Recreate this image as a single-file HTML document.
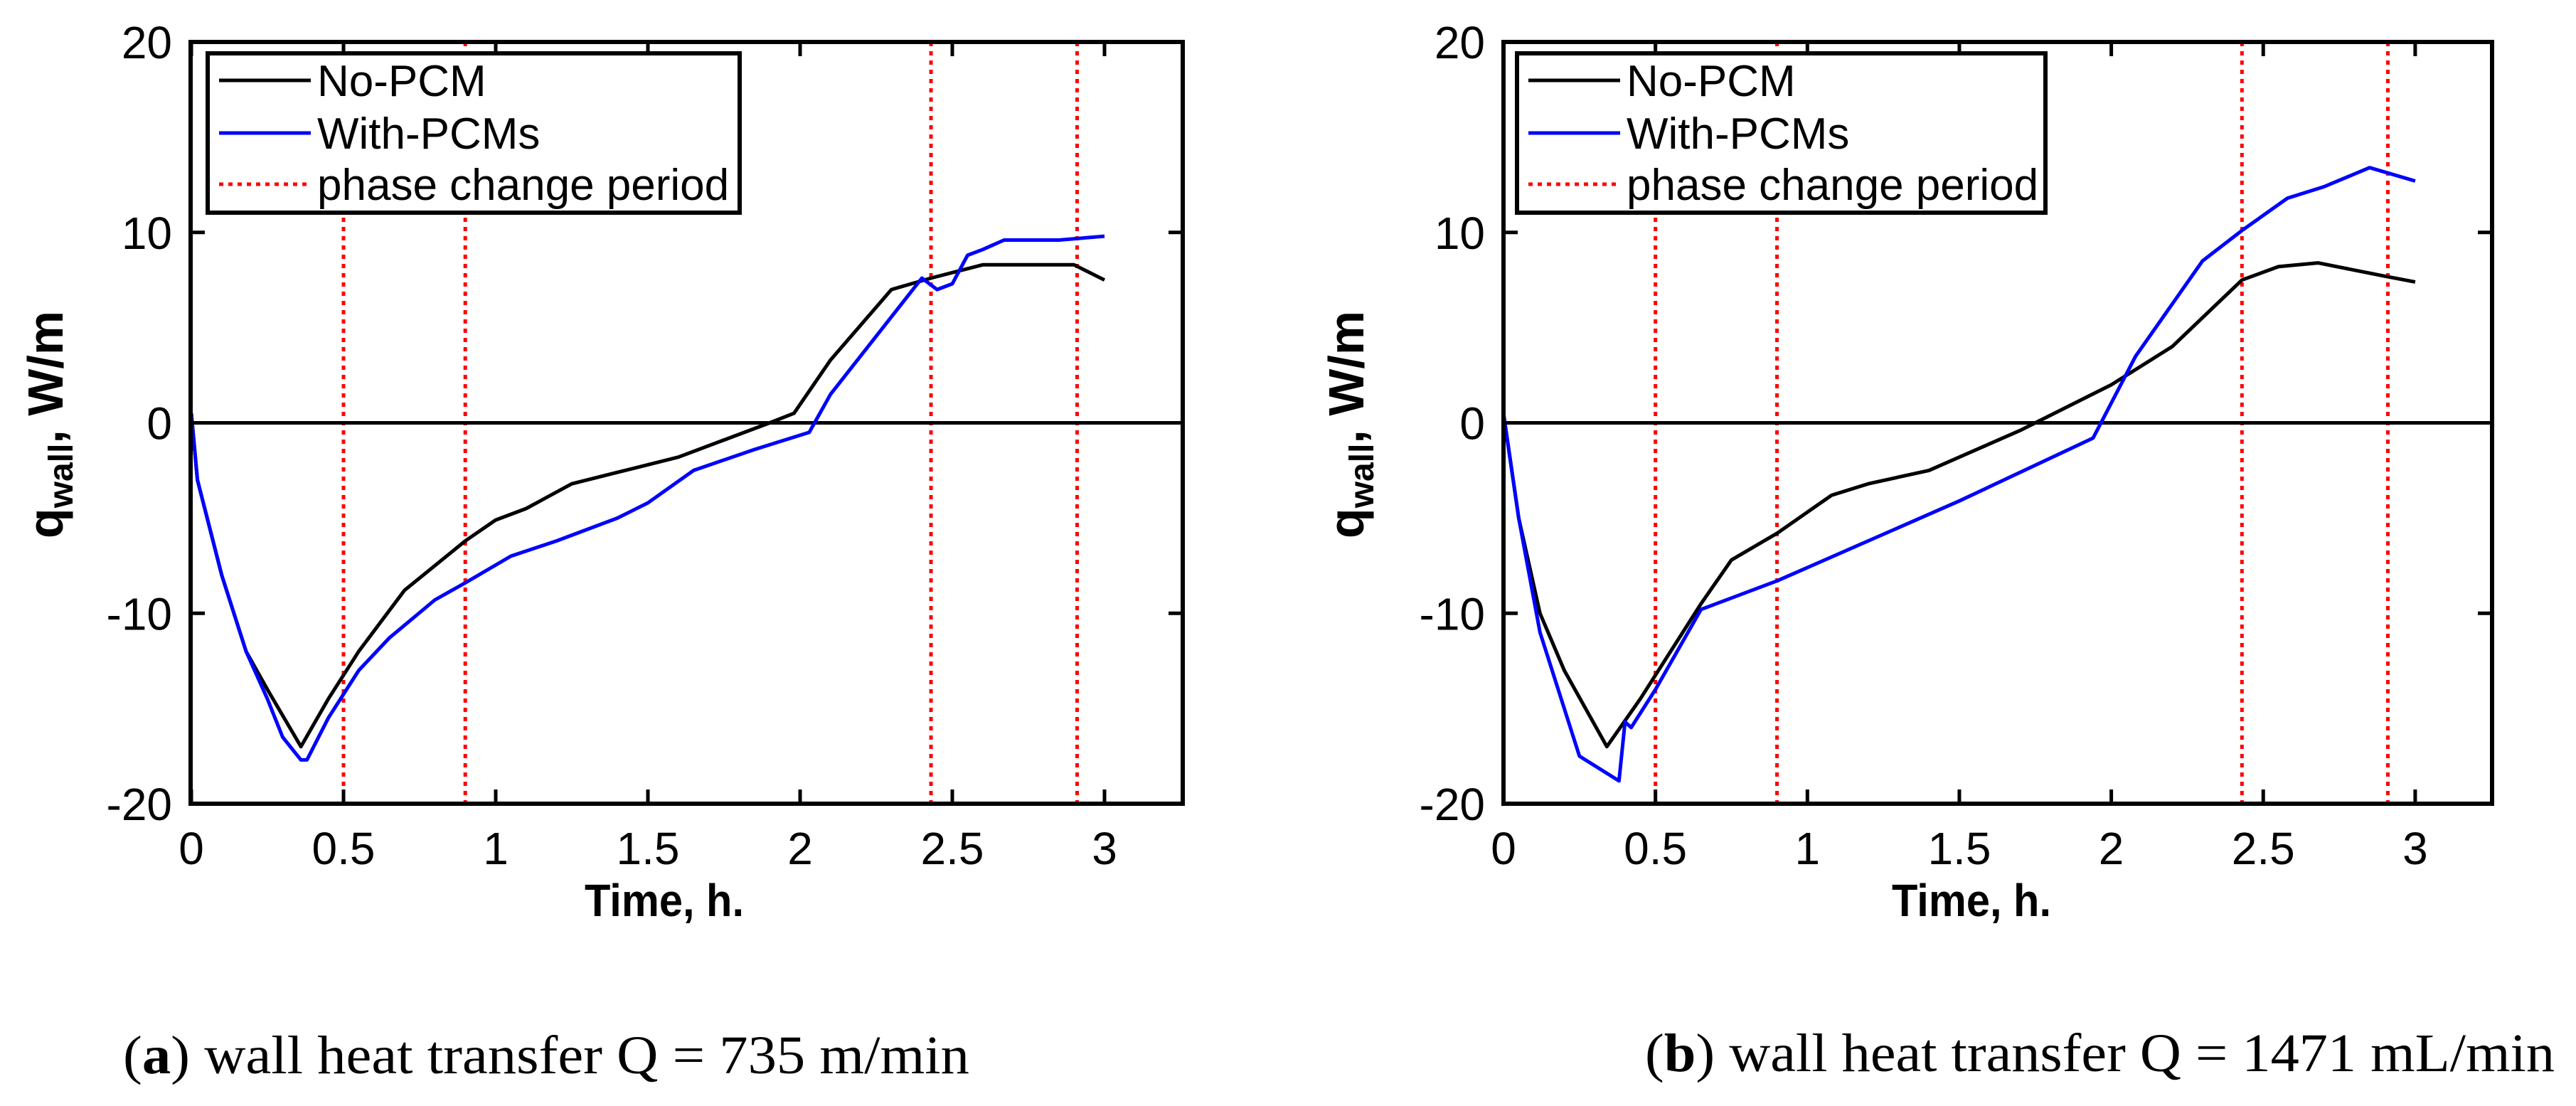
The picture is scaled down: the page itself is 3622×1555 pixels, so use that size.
<!DOCTYPE html>
<html><head><meta charset="utf-8"><title>Wall heat transfer charts</title>
<style>
html,body{margin:0;padding:0;background:#fff;}
svg{display:block;}
text{font-family:"Liberation Sans",Arial,sans-serif;fill:#000;}
.cap{font-family:"Liberation Serif","Times New Roman",serif;}
</style></head>
<body>
<svg id="fig" width="3622" height="1555" viewBox="0 0 3622 1555" xmlns="http://www.w3.org/2000/svg">
<rect width="3622" height="1555" fill="#fff"/>
<g id="chartA"></g>
<g id="chartB"></g>
<text class="cap" x="173" y="1509" font-size="76" textLength="1190" lengthAdjust="spacingAndGlyphs">(<tspan font-weight="bold">a</tspan>) wall heat transfer Q = 735 m/min</text>
<text class="cap" x="2313" y="1506" font-size="76" textLength="1279" lengthAdjust="spacingAndGlyphs">(<tspan font-weight="bold">b</tspan>) wall heat transfer Q = 1471 mL/min</text>
</svg>
<script>
// ---- data ----
const xTicks = [0, 0.5, 1, 1.5, 2, 2.5, 3];
const xTickLabels = ["0", "0.5", "1", "1.5", "2", "2.5", "3"];
const yTicks = [-20, -10, 0, 10, 20];
const yTickLabels = ["-20", "-10", "0", "10", "20"];
const phaseLinesA = [0.5, 0.9, 2.43, 2.91];
const phaseLinesB = [0.5, 0.9, 2.43, 2.91];

const noPcmA_t = [0,0.02,0.1,0.18,0.25,0.36,0.45,0.55,0.7,0.8,0.9,1.0,1.1,1.25,1.4,1.6,1.75,1.9,1.98,2.1,2.3,2.43,2.6,2.9,3.0];
const noPcmA_q = [0.5,-3,-8,-12,-14,-17,-14.5,-12,-8.8,-7.5,-6.2,-5.1,-4.5,-3.2,-2.6,-1.8,-0.9,0,0.5,3.3,7,7.6,8.3,8.3,7.5];
const pcmA_t = [0,0.02,0.1,0.18,0.25,0.3,0.36,0.38,0.45,0.55,0.65,0.8,0.9,1.05,1.2,1.4,1.5,1.65,1.85,2.03,2.1,2.4,2.45,2.5,2.55,2.6,2.67,2.8,2.85,3.0];
const pcmA_q = [0.5,-3,-8,-12,-14.5,-16.5,-17.7,-17.7,-15.5,-13,-11.3,-9.3,-8.4,-7,-6.2,-5,-4.2,-2.5,-1.4,-0.5,1.5,7.6,7,7.3,8.8,9.1,9.6,9.6,9.6,9.8];

const noPcmB_t = [0,0.05,0.12,0.2,0.34,0.45,0.65,0.75,0.9,1.08,1.2,1.4,1.7,1.75,2.0,2.2,2.43,2.55,2.68,2.9,3.0];
const noPcmB_q = [0.5,-5,-10,-13,-17,-14.5,-9.5,-7.2,-5.8,-3.8,-3.2,-2.5,-0.4,0,2,4,7.5,8.2,8.4,7.7,7.4];
const pcmB_t = [0,0.05,0.12,0.25,0.38,0.4,0.42,0.5,0.65,0.9,1.2,1.5,1.94,2.08,2.3,2.43,2.58,2.7,2.85,3.0];
const pcmB_q = [0.5,-5,-11,-17.5,-18.8,-15.7,-16,-14,-9.8,-8.3,-6.2,-4.1,-0.8,3.5,8.5,10.1,11.8,12.4,13.4,12.7];

const NS = "http://www.w3.org/2000/svg";
function mk(tag, attrs, parent) {
  const e = document.createElementNS(NS, tag);
  for (const k in attrs) e.setAttribute(k, attrs[k]);
  parent.appendChild(e);
  return e;
}

function drawChart(g, cfg, noT, noQ, pcT, pcQ, phases) {
  const L = cfg.left, R = cfg.right, T = 59, B = 1130;
  const xs = v => cfg.x0 + v * cfg.unit;
  const ys = v => T + (20 - v) / 40 * (B - T);

  phases.forEach(p => {
    const l = mk("line", {x1: xs(p), x2: xs(p), y1: T, y2: B, stroke: "#ff0000", "stroke-width": 5, "stroke-dasharray": "6 7"}, g);
    
    
  });
  const z = mk("line", {x1: L, x2: R, y1: ys(0), y2: ys(0), stroke: "#000", "stroke-width": 5}, g);
  
  

  const pts = (t, q) => t.map((v, i) => xs(v).toFixed(1) + "," + ys(q[i]).toFixed(1)).join(" ");
  const s1 = mk("polyline", {points: pts(noT, noQ), fill: "none", stroke: "#000", "stroke-width": 5, "stroke-linejoin": "round"}, g);
  
  
  const s2 = mk("polyline", {points: pts(pcT, pcQ), fill: "none", stroke: "#0000ff", "stroke-width": 5, "stroke-linejoin": "round"}, g);
  
  

  const box = mk("rect", {x: L, y: T, width: R - L, height: B - T, fill: "none", stroke: "#000", "stroke-width": 6}, g);
  
  

  xTicks.forEach((v, i) => {
    mk("line", {x1: xs(v), x2: xs(v), y1: B, y2: B - 20, stroke: "#000", "stroke-width": 5}, g);
    mk("line", {x1: xs(v), x2: xs(v), y1: T, y2: T + 20, stroke: "#000", "stroke-width": 5}, g);
    const t = mk("text", {x: xs(v), y: 1215, "font-size": 64, "text-anchor": "middle"}, g);
    t.textContent = xTickLabels[i];
    
    
  });
  yTicks.forEach((v, i) => {
    mk("line", {x1: L, x2: L + 20, y1: ys(v), y2: ys(v), stroke: "#000", "stroke-width": 5}, g);
    mk("line", {x1: R, x2: R - 20, y1: ys(v), y2: ys(v), stroke: "#000", "stroke-width": 5}, g);
    const t = mk("text", {x: L - 26, y: ys(v) + 23, "font-size": 64, "text-anchor": "end"}, g);
    t.textContent = yTickLabels[i];
    
    
  });

  const xt = mk("text", {x: cfg.xTitleX, y: 1288, "font-size": 64, "font-weight": "bold", "text-anchor": "middle", textLength: 224, lengthAdjust: "spacingAndGlyphs"}, g);
  xt.textContent = "Time, h.";
  
  

  const yt = mk("text", {x: 0, y: 0, "font-size": 70, "font-weight": "bold", "text-anchor": "middle", transform: "translate(" + cfg.yTitleX + ",597) rotate(-90)"}, g);
  
  
  yt.appendChild(document.createTextNode("q"));
  const sub = mk("tspan", {"font-size": 48, dy: 14}, yt);
  sub.textContent = "wall";
  const rest = mk("tspan", {dy: -14}, yt);
  rest.textContent = ", W/m";

  const lg = mk("g", {}, g);
  
  
  const lx = cfg.legendL, lw = cfg.legendW;
  mk("rect", {x: lx, y: 75, width: lw, height: 224, fill: "#fff", stroke: "#000", "stroke-width": 6}, lg);
  const entries = [["No-PCM", "#000", null], ["With-PCMs", "#0000ff", null], ["phase change period", "#ff0000", "6 7"]];
  const rowsY = [113, 187, 259];
  entries.forEach((en, i) => {
    const a = {x1: lx + 16, x2: lx + 145, y1: rowsY[i], y2: rowsY[i], stroke: en[1], "stroke-width": 5};
    if (en[2]) a["stroke-dasharray"] = en[2];
    mk("line", a, lg);
    const t = mk("text", {x: lx + 154, y: rowsY[i] + 22, "font-size": 62}, lg);
    t.textContent = en[0];
    
    
  });
}

drawChart(document.getElementById("chartA"),
  {left: 268, right: 1663, x0: 269, unit: 428, xTitleX: 934, yTitleX: 88, legendL: 292, legendW: 748},
  noPcmA_t, noPcmA_q, pcmA_t, pcmA_q, phaseLinesA);
drawChart(document.getElementById("chartB"),
  {left: 2114, right: 3504, x0: 2114, unit: 427.3, xTitleX: 2772, yTitleX: 1917, legendL: 2133, legendW: 743},
  noPcmB_t, noPcmB_q, pcmB_t, pcmB_q, phaseLinesB);
</script>
</body></html>
